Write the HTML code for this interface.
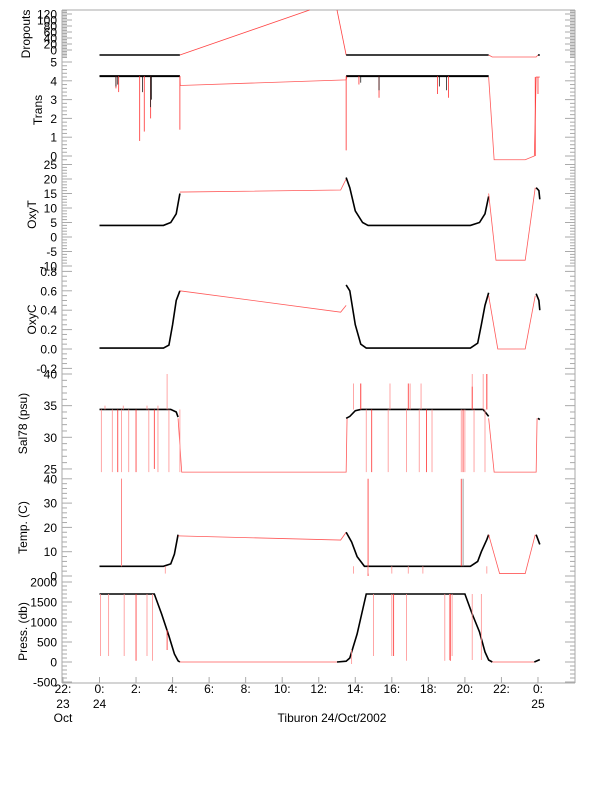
<!DOCTYPE html>
<html><head><meta charset="utf-8"><style>
html,body{margin:0;padding:0;background:#fff;}
svg{display:block;font-family:"Liberation Sans",sans-serif;}
</style></head><body>
<svg id="s" width="612" height="785" viewBox="0 0 612 785" xmlns="http://www.w3.org/2000/svg"></svg>
<script>
const S=document.getElementById('s');let out='';
const X=h=>99.5+18.27*h;
const L=62,R=575;
function txt(x,y,t,a,extra){out+=`<text x="${x}" y="${y}" font-size="12" text-anchor="${a||'end'}" ${extra||''}>${t}</text>`;}
function pl(pts,col,w,op){out+=`<polyline fill="none" stroke="${col}" stroke-width="${w}" ${op?'stroke-opacity="'+op+'"':''} points="${pts.map(p=>p.join(',')).join(' ')}"/>`;}
function ln(x1,y1,x2,y2,c,w){out+=`<line x1="${x1}" y1="${y1}" x2="${x2}" y2="${y2}" stroke="${c}" stroke-width="${w||1}"/>`;}
const panels=[
 {t:10,b:58,f:v=>50-0.3*v,ticks:[0,20,40,60,80,100,120],lab:'Dropouts',lx:30,minor:5,lo:-25,hi:133},
 {t:58,b:162,f:v=>156-18.8*v,ticks:[0,1,2,3,4,5],lab:'Trans',lx:42,minor:0.2,lo:-0.3,hi:5.2},
 {t:162,b:267,f:v=>237-2.9*v,ticks:[-10,-5,0,5,10,15,20,25],lab:'OxyT',lx:36,minor:1,lo:-10,hi:26},
 {t:267,b:372,f:v=>349-97*v,ticks:[-0.2,0.0,0.2,0.4,0.6,0.8],fmt:v=>v.toFixed(1),lab:'OxyC',lx:36,minor:0.05,lo:-0.23,hi:0.84},
 {t:372,b:475,f:v=>374+(40-v)*6.33,ticks:[25,30,35,40],lab:'Sal78 (psu)',lx:27,minor:1,lo:24,hi:40.3},
 {t:475,b:580,f:v=>576-2.43*v,ticks:[0,10,20,30,40],lab:'Temp. (C)',lx:27,minor:2,lo:-1,hi:41},
 {t:580,b:683,f:v=>662-0.04*v,ticks:[-500,0,500,1000,1500,2000],lab:'Press. (db)',lx:27,minor:100,lo:-520,hi:2050},
];
const G='#aaa';
panels.forEach(p=>{
 ln(L,p.t,L,p.b,G);ln(R,p.t,R,p.b,G);
 for(let v=Math.ceil(p.lo/p.minor)*p.minor;v<=p.hi;v+=p.minor){const y=p.f(v);if(y<p.t||y>p.b)continue;
  const major=p.ticks.some(t=>Math.abs(t-v)<p.minor/10);const w=major?10:5;
  ln(L,y,L+w,y,G);ln(R,y,R-w,y,G);}
 p.ticks.forEach(v=>{const y=p.f(v);txt(57,y+4.5,p.fmt?p.fmt(v):v);});
 const cy=(p.t+p.b)/2;txt(0,0,p.lab,'middle',`transform="translate(${p.lx},${cy}) rotate(-90)"`);
});
ln(L,10,R,10,G);ln(L,683,R,683,G);
for(let h=-2;h<=24;h+=2){const x=X(h);ln(x,683,x,677,G);const lab=(h<0?h+24:h%24)+':';txt(x,693,lab,'middle');}
txt(X(-2),708,'23','middle');txt(X(-2),722,'Oct','middle');txt(X(0),708,'24','middle');txt(X(24),708,'25','middle');
txt(332,722,'Tiburon 24/Oct/2002','middle');
const RED='#ff3030',PINK='#ff9090',K='#000';
function seg(p,arr,col,w,op){pl(arr.map(a=>[X(a[0]),p.f(a[1])]),col,w,op);}
function spikes(p,list,col,w){list.forEach(s=>ln(X(s[0]),p.f(s[1]),X(s[0]),p.f(s[2]),col,w||0.8));}
let P=panels;
ln(X(0),55,X(4.4),55,K,1.5);pl([[X(4.4),55],[X(11.5),10]],RED,0.8,0.9);pl([[X(13.0),10],[X(13.5),55]],RED,0.8,0.9);
ln(X(13.5),55,X(21.3),55,K,1.5);pl([[X(21.3),55],[X(21.5),57],[X(23.9),57],[X(24),55]],RED,0.8,0.8);ln(X(24),55,X(24.1),55,K,1.5);
let p=P[1];
seg(p,[[0,4.25],[4.4,4.25]],K,2);seg(p,[[4.4,4.25],[4.42,3.75],[13.5,4.05],[13.55,4.25]],RED,0.8,0.8);
seg(p,[[13.5,4.25],[21.3,4.25]],K,2);seg(p,[[21.3,4.2],[21.6,-0.2],[23.3,-0.2],[23.8,0],[23.9,4.2],[24.1,4.2]],RED,0.8,0.8);
spikes(p,[[0.9,4.25,3.6],[1.05,4.25,3.4],[2.2,4.25,0.8],[2.45,4.25,1.3],[2.8,4.25,2.0],[4.4,4.25,1.4],[13.5,4.25,0.3],[14.2,4.25,3.8],[15.3,4.25,3.1],[18.5,4.25,3.3],[19.1,4.25,3.1],[24.0,4.2,3.3],[23.85,4.2,0]],RED,0.8);
spikes(p,[[0.9,4.25,3.7],[2.35,4.25,3.4],[2.8,4.25,2.6],[2.85,4.25,3],[1.0,4.25,3.8],[14.3,4.25,3.9],[15.3,4.25,3.5],[18.6,4.25,3.7],[19.0,4.25,3.5]],K,0.7);
p=P[2];
seg(p,[[0,4],[3.5,4],[3.9,5],[4.2,8],[4.4,15]],K,1.6);seg(p,[[4.4,15.5],[13.2,16.2],[13.5,20]],RED,0.8,0.8);
seg(p,[[13.5,20.5],[13.7,17],[14.0,9],[14.4,5],[14.7,4],[20.3,4],[20.8,5],[21.1,8],[21.3,14]],K,1.6);
seg(p,[[21.3,15],[21.7,-8],[23.3,-8],[23.85,17]],RED,0.8,0.8);seg(p,[[23.9,17],[24.05,16],[24.1,13]],K,1.6);
p=P[3];
seg(p,[[0,0.01],[3.5,0.01],[3.8,0.04],[4.0,0.25],[4.2,0.5],[4.4,0.6]],K,1.6);seg(p,[[4.4,0.6],[13.2,0.38],[13.5,0.45]],RED,0.8,0.8);
seg(p,[[13.5,0.66],[13.7,0.6],[14.0,0.25],[14.3,0.05],[14.6,0.01],[20.3,0.01],[20.7,0.06],[20.9,0.25],[21.1,0.45],[21.3,0.58]],K,1.6);
seg(p,[[21.3,0.55],[21.8,0],[23.3,0],[23.85,0.55]],RED,0.8,0.8);seg(p,[[23.9,0.57],[24.05,0.5],[24.1,0.4]],K,1.6);
p=P[4];
seg(p,[[0,34.4],[3.9,34.4],[4.2,34],[4.3,33.2]],K,1.6);seg(p,[[4.3,33],[4.5,24.5],[13.5,24.5],[13.55,33]],RED,0.8,0.8);
seg(p,[[13.5,33],[13.7,33.3],[14.0,34.2],[14.3,34.4],[21.0,34.4],[21.3,33.3]],K,1.6);seg(p,[[21.3,33],[21.6,24.5],[23.9,24.5],[23.95,33]],RED,0.8,0.8);
seg(p,[[24,33],[24.1,32.8]],K,1.6);
spikes(p,[[0.1,34.4,24.5],[0.7,34.4,24.5],[1.2,34.4,24.5],[1.6,34.4,24.5],[2.7,34.4,24.5],[3.2,34.4,24.5],[3.8,34.4,24.5],[4.4,34.4,24.5],[14.6,34.4,24.5],[15.8,34.4,24.5],[16.8,34.4,24.5],[17.5,34.4,24.5],[18.2,34.4,24.5],[19.8,34.4,24.5],[20.0,34.4,24.5],[20.5,34.4,24.5],[21.1,34.4,24.5]],PINK,0.8);
spikes(p,[[1.0,34.4,24.5],[2.0,34.4,24.5],[3.0,34.4,25],[14.9,34.4,24.5],[17.9,34.4,24.5],[19.9,34.4,24.5]],RED,0.8);
spikes(p,[[3.7,34.4,40],[13.9,34.4,38.5],[14.3,34.4,38.5],[15.9,34.4,38.5],[17.0,34.4,38.5],[17.6,34.4,38.5],[20.4,34.4,40],[21.0,34.4,40],[21.2,34.4,40],[0.3,34.4,35],[1.3,34.4,35],[3.2,34.4,35],[2.6,34.4,35]],PINK,0.8);
spikes(p,[[14.3,34.4,38.5],[16.9,34.4,38.5],[21.2,34.4,40],[20.4,34.4,38]],RED,0.8);
p=P[5];
seg(p,[[0,4],[3.5,4],[3.9,5],[4.1,9],[4.3,17]],K,1.6);seg(p,[[4.3,16.5],[13.2,14.8],[13.5,18]],RED,0.8,0.8);
seg(p,[[13.5,18],[13.8,14],[14.1,8],[14.5,4],[20.3,4],[20.7,6],[20.9,10],[21.2,15],[21.3,17]],K,1.6);
seg(p,[[21.3,17],[21.9,1],[23.3,1],[23.85,17]],RED,0.8,0.8);seg(p,[[23.9,17],[24.0,15],[24.1,13]],K,1.6);
spikes(p,[[1.2,40,4],[14.7,40,0],[19.8,40,4]],RED,0.8);
spikes(p,[[1.2,40,4],[3.6,4,1],[13.9,4,1],[16.0,4,1],[16.9,4,1],[17.7,4,1],[14.7,4,1],[21.2,4,1]],PINK,0.8);
spikes(p,[[19.9,40,4]],'#888',0.8);
p=P[6];
seg(p,[[0,1700],[3.0,1700],[3.4,1200],[3.8,650],[4.1,200],[4.3,30],[4.4,0]],K,1.6);seg(p,[[4.4,0],[13.0,0]],RED,0.8,0.8);
seg(p,[[13.0,0],[13.5,20],[13.7,100],[14.1,700],[14.4,1300],[14.6,1700],[20.0,1700],[20.4,1200],[20.8,750],[21.1,250],[21.3,50],[21.5,0]],K,1.6);
seg(p,[[21.5,0],[23.8,0]],RED,0.8,0.8);seg(p,[[23.8,0],[24.05,50],[24.1,60]],K,1.6);
spikes(p,[[0.05,1700,150],[0.5,1700,150],[1.35,1700,150],[2.6,1700,150],[2.9,1700,30],[15.0,1700,150],[16.0,1700,150],[16.8,1700,30],[18.9,1700,30],[19.15,1700,50],[19.3,1700,150],[20.4,1700,50],[20.9,1700,50],[13.8,300,-50]],PINK,0.8);
spikes(p,[[2.0,1700,30],[3.7,800,300],[16.1,1700,150],[19.2,1700,30]],RED,0.8);
S.innerHTML=out;
</script>
</body></html>
